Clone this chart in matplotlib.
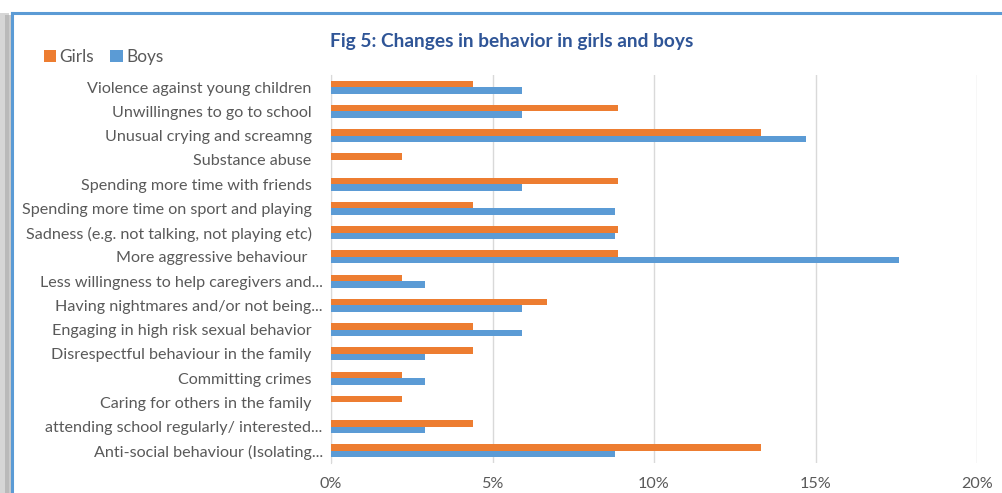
import matplotlib
matplotlib.use("Agg")
import matplotlib.pyplot as plt
from matplotlib.patches import Rectangle
from matplotlib.transforms import ScaledTranslation
import numpy as np

categories = [
    "Violence against young children",
    "Unwillingnes to go to school",
    "Unusual crying and screamng",
    "Substance abuse",
    "Spending more time with friends",
    "Spending more time on sport and playing",
    "Sadness (e.g. not talking, not playing etc)",
    "More aggressive behaviour ",
    "Less willingness to help caregivers and...",
    "Having nightmares and/or not being...",
    "Engaging in high risk sexual behavior",
    "Disrespectful behaviour in the family",
    "Committing crimes",
    "Caring for others in the family",
    "attending school regularly/ interested...",
    "Anti-social behaviour (Isolating...",
]
girls = [4.4, 8.9, 13.3, 2.2, 8.9, 4.4, 8.9, 8.9, 2.2, 6.7, 4.4, 4.4, 2.2, 2.2, 4.4, 13.3]
boys = [5.9, 5.9, 14.7, 0.0, 5.9, 8.8, 8.8, 17.6, 2.9, 5.9, 5.9, 2.9, 2.9, 0.0, 2.9, 8.8]
xticks = [0, 5, 10, 15, 20]
xticklabels = ["0%", "5%", "10%", "15%", "20%"]
title = "Fig 5: Changes in behavior in girls and boys"

ORANGE = "#ED7D31"
BLUE = "#5B9BD5"
TXT = "#595959"
FONT = "Lato"
FS = 11.6

W, H = 1002, 493
fig = plt.figure(figsize=(W / 100, H / 100), dpi=100)
fig.patch.set_facecolor("white")

# frame: shadow and blue border
fig.add_artist(Rectangle((0, 0), 9 / W, 1 - 13 / H, transform=fig.transFigure,
                         facecolor="#d6d6d6", edgecolor="none", zorder=0))
fig.add_artist(Rectangle((5 / W, 0), 6 / W, 1 - 15 / H, transform=fig.transFigure,
                         facecolor="#a8a8a8", edgecolor="none", zorder=0, alpha=0.6))
fig.add_artist(plt.Line2D([12 / W, 1], [1 - 13 / H, 1 - 13 / H], transform=fig.transFigure,
                          color="#5B9BD5", lw=2.2, zorder=1))
fig.add_artist(plt.Line2D([12 / W, 12 / W], [0, 1 - 13 / H], transform=fig.transFigure,
                          color="#5B9BD5", lw=2.2, zorder=1))

left, right = 331 / W, 977 / W
top, bottom = 1 - 75 / H, 1 - 463 / H
ax = fig.add_axes([left, bottom, right - left, top - bottom])

y = np.arange(len(categories))
h = 0.27
ax.barh(y - h / 2, girls, height=h, color=ORANGE, label="Girls", zorder=3)
ax.barh(y + h / 2, boys, height=h, color=BLUE, label="Boys", zorder=3)

ax.set_ylim(len(categories) - 0.5, -0.5)
ax.set_xlim(0, 20)
ax.set_yticks(y)
ax.set_yticklabels(categories, fontsize=FS, color=TXT, family=FONT)
ax.set_xticks(xticks)
ax.set_xticklabels(xticklabels, fontsize=FS, color=TXT, family=FONT)
ax.tick_params(axis="both", length=0)
ax.tick_params(axis="y", pad=6)
ax.tick_params(axis="x", pad=10)
ax.grid(axis="x", color="#d9d9d9", lw=1, zorder=0)
for s in ["top", "right", "bottom"]:
    ax.spines[s].set_visible(False)
ax.spines["left"].set_color("#d9d9d9")

# non-truncated labels sit a bit further from the axis (as in the reference)
for lab in ax.get_yticklabels():
    if not lab.get_text().endswith("..."):
        lab.set_transform(lab.get_transform() + ScaledTranslation(-0.11, 0, fig.dpi_scale_trans))

fig.text(330 / W, 1 - 41 / H, title, fontsize=13.8, fontweight="bold", color="#2F5597",
         family=FONT, va="center", ha="left")

leg = fig.legend(loc="center left", bbox_to_anchor=(44 / W, 1 - 57 / H), ncol=2, frameon=False,
                 prop={"family": FONT, "size": 12.4}, handlelength=0.7, handleheight=0.7,
                 handletextpad=0.2, columnspacing=0.95, borderaxespad=0, borderpad=0)
for t in leg.get_texts():
    t.set_color(TXT)

fig.savefig("out.png", dpi=100)
